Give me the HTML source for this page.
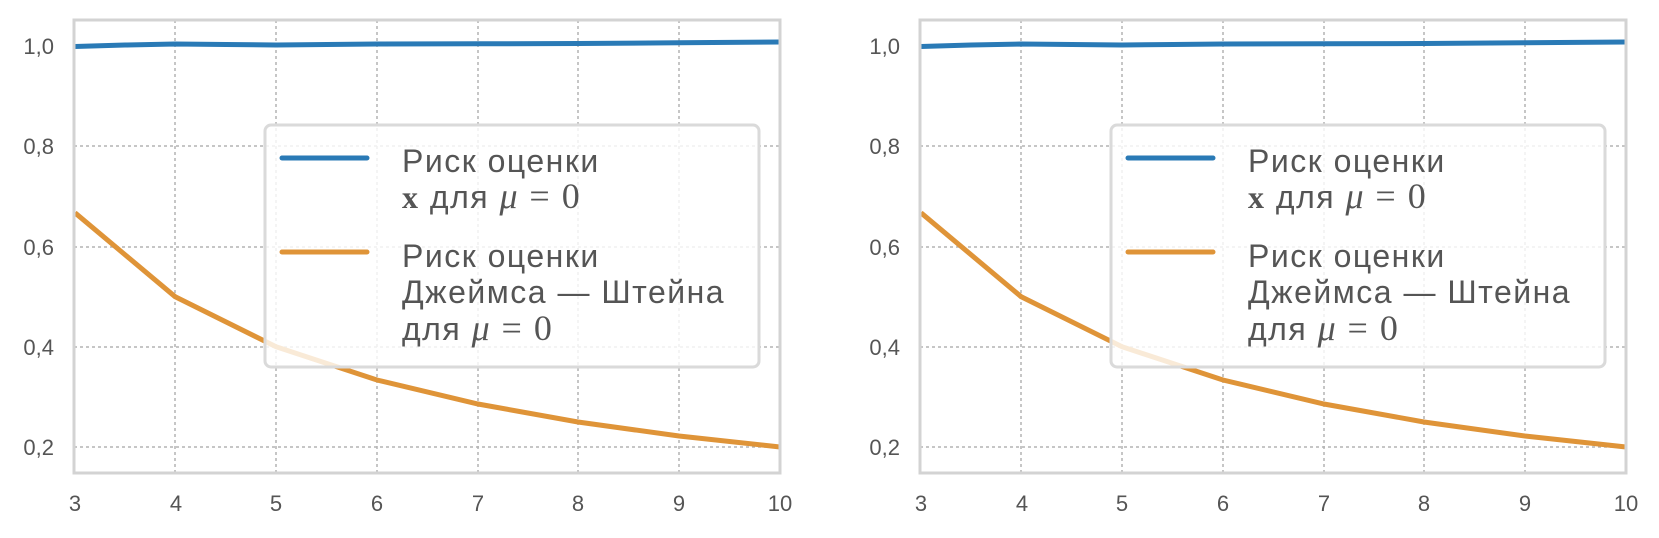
<!DOCTYPE html>
<html><head><meta charset="utf-8"><style>
html,body{margin:0;padding:0;background:#fff;}
svg{display:block;}
text{font-family:"Liberation Sans","DejaVu Sans",sans-serif;fill:#555;}
</style></head><body>
<svg width="1659" height="538" viewBox="0 0 1659 538" xmlns="http://www.w3.org/2000/svg">
<defs>
<g id="panel">
  <g stroke="#b3b3b3" stroke-width="1.5" stroke-dasharray="3,3">
    <line x1="175" y1="20" x2="175" y2="473"/>
    <line x1="276" y1="20" x2="276" y2="473"/>
    <line x1="377" y1="20" x2="377" y2="473"/>
    <line x1="478" y1="20" x2="478" y2="473"/>
    <line x1="578" y1="20" x2="578" y2="473"/>
    <line x1="679" y1="20" x2="679" y2="473"/>
    <line x1="74" y1="146" x2="780" y2="146"/>
    <line x1="74" y1="247" x2="780" y2="247"/>
    <line x1="74" y1="347" x2="780" y2="347"/>
    <line x1="74" y1="447" x2="780" y2="447"/>
  </g>
  <polyline fill="none" stroke="#2a7ab6" stroke-width="5" points="75,46.5 125,45 175,44 226,44.5 276,45 327,44.5 377,44 478,43.8 578,43.5 679,42.8 780,42"/>
  <polyline fill="none" stroke="#df9438" stroke-width="5" points="75,212.8 175,296.6 276,346.7 377,380 478,404 578,422 679,436 780,447"/>
  <rect x="74" y="20" width="706" height="453" fill="none" stroke="#d3d3d3" stroke-width="3"/>
  <rect x="265" y="125" width="494" height="242" rx="6" fill="#fff" fill-opacity="0.8" stroke="#dadada" stroke-width="3"/>
  <line x1="282" y1="158" x2="367" y2="158" stroke="#2a7ab6" stroke-width="5" stroke-linecap="round"/>
  <line x1="282" y1="252" x2="367" y2="252" stroke="#df9438" stroke-width="5" stroke-linecap="round"/>
  <g font-size="32" letter-spacing="1.5">
    <text x="402" y="172">Риск оценки</text>
    <text x="402" y="208"><tspan font-family="Liberation Serif" font-weight="bold">x</tspan> для <tspan font-family="Liberation Serif" font-style="italic" font-size="36">μ</tspan> <tspan font-family="Liberation Serif" font-size="36">= 0</tspan></text>
    <text x="402" y="267">Риск оценки</text>
    <text x="402" y="303">Джеймса — Штейна</text>
    <text x="402" y="340">для <tspan font-family="Liberation Serif" font-style="italic" font-size="36">μ</tspan> <tspan font-family="Liberation Serif" font-size="36">= 0</tspan></text>
  </g>
  <g font-size="22" text-anchor="end">
    <text x="54" y="54">1,0</text>
    <text x="54" y="154">0,8</text>
    <text x="54" y="255">0,6</text>
    <text x="54" y="355">0,4</text>
    <text x="54" y="455">0,2</text>
  </g>
  <g font-size="22" text-anchor="middle">
    <text x="75" y="511">3</text>
    <text x="176" y="511">4</text>
    <text x="276" y="511">5</text>
    <text x="377" y="511">6</text>
    <text x="478" y="511">7</text>
    <text x="578" y="511">8</text>
    <text x="679" y="511">9</text>
    <text x="780" y="511">10</text>
  </g>
</g>
</defs>
<use href="#panel"/>
<use href="#panel" transform="translate(846,0)"/>
</svg>
</body></html>
